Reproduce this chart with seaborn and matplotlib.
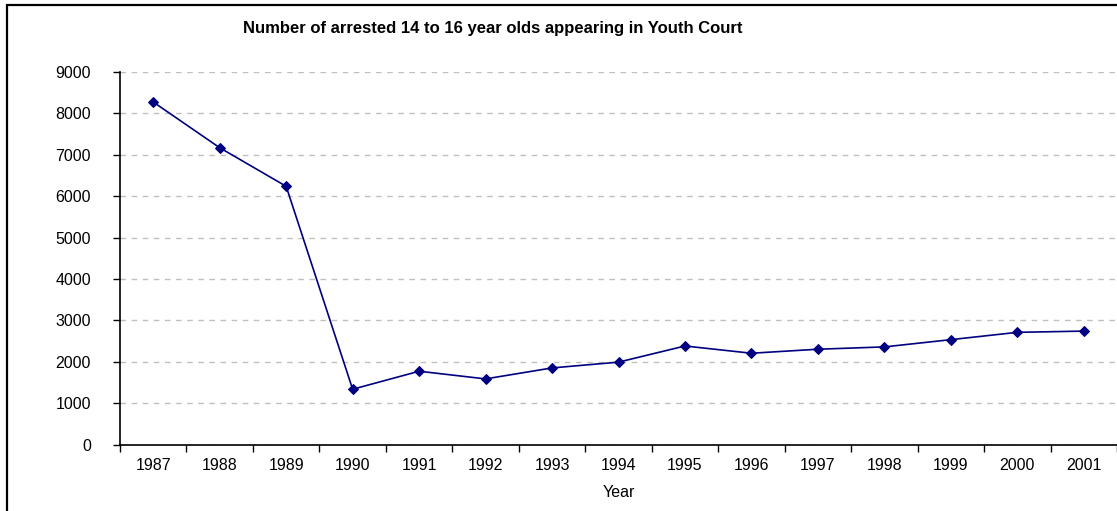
import matplotlib
matplotlib.use("Agg")
import matplotlib.pyplot as plt
import seaborn as sns
import pandas as pd
from matplotlib.patches import Rectangle
from matplotlib.ticker import FixedLocator, NullFormatter

years = [1987, 1988, 1989, 1990, 1991, 1992, 1993, 1994, 1995, 1996, 1997, 1998, 1999, 2000, 2001]
counts = [8275, 7170, 6238, 1335, 1770, 1585, 1850, 1990, 2380, 2205, 2302, 2358, 2533, 2710, 2740]
y_ticks = [0, 1000, 2000, 3000, 4000, 5000, 6000, 7000, 8000, 9000]
title = "Number of arrested 14 to 16 year olds appearing in Youth Court"
xlabel = "Year"

sns.set_style("white")
plt.rcParams['font.family'] = ['Liberation Sans', 'DejaVu Sans']
plt.rcParams['text.color'] = 'black'
plt.rcParams['axes.labelcolor'] = 'black'
plt.rcParams['xtick.color'] = 'black'
plt.rcParams['ytick.color'] = 'black'

df = pd.DataFrame({"Year": years, "Count": counts})

fig = plt.figure(figsize=(11.17, 5.11), dpi=100)
W, H = 1117, 511
ax = fig.add_axes([120 / W, 1 - 444.5 / H, (1117 - 120) / W, (444.5 - 72) / H])

sns.lineplot(data=df, x="Year", y="Count", ax=ax, color="#000080", linewidth=1.2,
             marker="D", markersize=5, markeredgecolor="#000080", markerfacecolor="#000080")

ax.set_xlim(years[0] - 0.5, years[-1] + 0.5)
ax.set_ylim(0, 9000)
ax.set_yticks(y_ticks)
ax.set_yticklabels([str(v) for v in y_ticks], fontsize=11.5)

# major ticks at category boundaries, labels at centers (minor)
bounds = [y - 0.5 for y in years] + [years[-1] + 0.5]
ax.xaxis.set_major_locator(FixedLocator(bounds))
ax.xaxis.set_major_formatter(NullFormatter())
ax.xaxis.set_minor_locator(FixedLocator(years))
ax.set_xticklabels([str(y) for y in years], minor=True, fontsize=11.5)
ax.tick_params(axis="x", which="major", length=5, width=1, direction="out", color="black", bottom=True)
ax.tick_params(axis="x", which="minor", length=0, pad=10, bottom=True)
ax.tick_params(axis="y", length=5, width=1, direction="out", color="black", left=True, pad=16)

ax.grid(axis="y", color="#c0c0c0", linestyle=(0, (4, 4)), linewidth=1)
ax.set_axisbelow(True)

for s in ["top", "right"]:
    ax.spines[s].set_visible(False)
for s in ["left", "bottom"]:
    ax.spines[s].set_color("black")
    ax.spines[s].set_linewidth(1.2)

ax.set_xlabel(xlabel, fontsize=11.5, labelpad=8)
ax.set_ylabel("")

fig.text(493 / W, 1 - 28 / H, title, ha="center", va="center", fontsize=12, fontweight="bold")

# outer chart frame (only left and top edges visible)
fig.patches.append(Rectangle((7 / W, -0.1), 1.2, 1 - 5 / H + 0.1, transform=fig.transFigure,
                             fill=False, edgecolor="black", linewidth=1.6, clip_on=False))

fig.savefig("out.png", dpi=100, facecolor="white")
